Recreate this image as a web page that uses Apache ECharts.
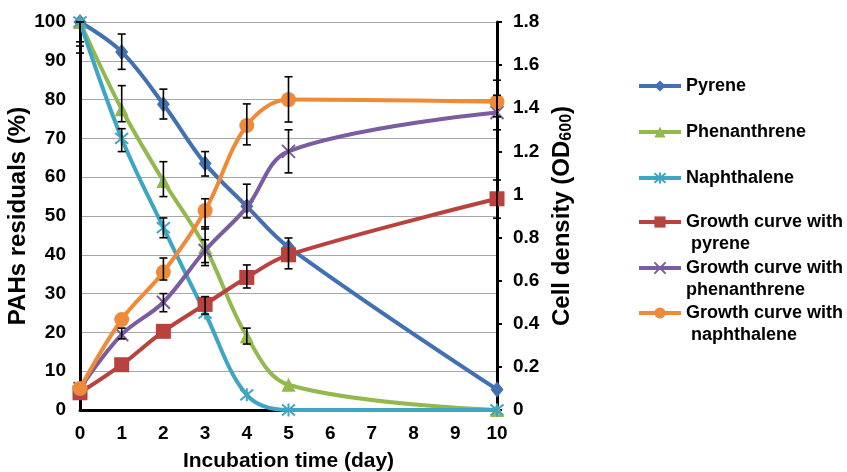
<!DOCTYPE html>
<html>
<head>
<meta charset="utf-8">
<script src="https://cdn.jsdelivr.net/npm/echarts@6/dist/echarts.min.js"></script>
<style>
  html, body { margin: 0; padding: 0; background: #fff; }
  #chart { width: 847px; height: 472px; }
</style>
</head>
<body>
<div id="chart"></div>
<script>
// days sampled
var days = [0, 1, 2, 3, 4, 5, 10];
var xTicks = [0, 1, 2, 3, 4, 5, 6, 7, 8, 9, 10];

// PAHs residuals (%)  - left axis
var pyrene = [100, 92.3, 78.8, 63.5, 52.5, 42, 5.3];
var phenanthrene = [100, 77.5, 59, 42, 19, 6.5, 0];
var naphthalene = [100, 70, 47, 25, 3.9, 0, 0];

// cell density OD600 - right axis
var growthPyrene = [0.08, 0.21, 0.365, 0.49, 0.615, 0.72, 0.98];
var growthPhen = [0.1, 0.35, 0.5, 0.74, 0.94, 1.2, 1.38];
var growthNaph = [0.1, 0.42, 0.64, 0.925, 1.32, 1.44, 1.43];

// error bars [day, low, high]
var errLeft = [
    [0, 94.9, 100], [0, 93.8, 100], [0, 92, 100],
    [1, 87.8, 96.9], [2, 75, 82.7], [3, 60.3, 66.6], [4, 49.5, 58.2],
    [1, 74.3, 83.6], [2, 55, 64], [3, 38, 47.2], [4, 17, 21.1],
    [1, 66.6, 72.5], [2, 44.4, 49.5]
];
var errRight = [
    [3, 0.445, 0.526], [4, 0.566, 0.673], [5, 0.655, 0.798], [10, 0.89, 1.067],
    [1, 0.33, 0.38], [2, 0.456, 0.54], [3, 0.67, 0.79], [5, 1.1, 1.3], [10, 1.3, 1.46],
    [2, 0.603, 0.705], [3, 0.84, 0.98], [4, 1.23, 1.42], [5, 1.336, 1.546], [10, 1.36, 1.53]
];

var names = ['Pyrene', 'Phenanthrene', 'Naphthalene',
    'Growth curve with\n pyrene', 'Growth curve with\nphenanthrene', 'Growth curve with\n naphthalene'];
var colors = ['#4170b3', '#93b84e', '#3ea6c3', '#b9413e', '#7a5ca0', '#ef8a38'];

var chart = echarts.init(document.getElementById('chart'));

function pairs(vals) {
    return days.map(function (d, i) { return [d, vals[i]]; });
}

function lineSeries(i, vals, yIdx, symbol, size, hollow) {
    return {
        name: names[i],
        type: 'line',
        yAxisIndex: yIdx,
        data: pairs(vals),
        smooth: 0.35,
        symbol: symbol,
        symbolSize: size,
        showSymbol: true,
        lineStyle: { color: colors[i], width: 4 },
        itemStyle: hollow
            ? { color: 'rgba(0,0,0,0)', borderColor: colors[i], borderWidth: 2 }
            : { color: colors[i] },
        z: 3 + i
    };
}

function errSeries(data, yIdx) {
    return {
        type: 'custom',
        yAxisIndex: yIdx,
        data: data,
        z: 20,
        silent: true,
        renderItem: function (params, api) {
            var x = api.value(0);
            var lo = api.coord([x, api.value(1)]);
            var hi = api.coord([x, api.value(2)]);
            var w = 4;
            var st = { stroke: '#000', lineWidth: 1.6 };
            return {
                type: 'group',
                children: [
                    { type: 'line', shape: { x1: lo[0], y1: lo[1], x2: hi[0], y2: hi[1] }, style: st },
                    { type: 'line', shape: { x1: lo[0] - w, y1: lo[1], x2: lo[0] + w, y2: lo[1] }, style: st },
                    { type: 'line', shape: { x1: hi[0] - w, y1: hi[1], x2: hi[0] + w, y2: hi[1] }, style: st }
                ]
            };
        }
    };
}

var font = 'Liberation Sans, Arial, sans-serif';
var legendTops = [86, 132, 178, 222, 268, 313];
var lh = 22;

var legends = names.map(function (n, i) {
    var twoLine = n.indexOf('\n') >= 0;
    return {
        data: [n],
        orient: 'vertical',
        left: 637,
        top: legendTops[i] - (twoLine ? lh * 1.5 : lh / 2),
        padding: 0,
        itemWidth: 42,
        itemHeight: 14,
        itemGap: 0,
        lineStyle: { width: 4 },
        formatter: function (name) {
            // blank first line keeps the icon level with the first text line
            return name.indexOf('\n') >= 0 ? ' \n' + name : name;
        },
        textStyle: {
            fontFamily: font, fontWeight: 'bold', fontSize: 18, color: '#000',
            lineHeight: lh
        }
    };
});

var option = {
    animation: false,
    backgroundColor: '#fff',
    textStyle: { fontFamily: font },
    grid: { left: 80, right: 350, top: 22, bottom: 62, containLabel: false, outerBoundsMode: 'none' },
    legend: legends,
    xAxis: {
        type: 'value',
        min: 0, max: 10, interval: 1,
        name: 'Incubation time (day)',
        nameLocation: 'middle',
        nameGap: 41,
        nameTextStyle: { fontFamily: font, fontWeight: 'bold', fontSize: 21, color: '#000' },
        axisLine: { lineStyle: { color: '#000', width: 3 } },
        axisTick: { show: false },
        splitLine: { show: false },
        axisLabel: {
            fontFamily: font, fontWeight: 'bold', fontSize: 19, color: '#000', margin: 14,
            formatter: function (v) { return xTicks.indexOf(v) >= 0 ? String(v) : ''; }
        }
    },
    yAxis: [{
        type: 'value',
        min: 0, max: 100, interval: 10,
        name: 'PAHs residuals (%)',
        nameLocation: 'middle',
        nameRotate: 90,
        nameGap: 34,
        nameTextStyle: { fontFamily: font, fontWeight: 'bold', fontSize: 24, color: '#000' },
        axisLine: { show: true, lineStyle: { color: '#000', width: 3 } },
        axisTick: { show: false },
        splitLine: { show: true, lineStyle: { color: '#a6a6a6', width: 1 } },
        axisLabel: { fontFamily: font, fontWeight: 'bold', fontSize: 19, color: '#000', margin: 14 }
    }, {
        type: 'value',
        position: 'right',
        min: 0, max: 1.8, interval: 0.2,
        name: 'Cell density (OD{sub|600})',
        nameLocation: 'middle',
        nameRotate: 90,
        nameGap: 53,
        nameTextStyle: {
            fontFamily: font, fontWeight: 'bold', fontSize: 24, color: '#000',
            rich: { sub: { fontFamily: font, fontWeight: 'bold', fontSize: 16, color: '#000', verticalAlign: 'bottom', padding: [9, 0, 0, 0] } }
        },
        axisLine: { show: true, lineStyle: { color: '#000', width: 3 } },
        axisTick: { show: true, length: 5, lineStyle: { color: '#000', width: 2 } },
        splitLine: { show: false },
        axisLabel: { fontFamily: font, fontWeight: 'bold', fontSize: 19, color: '#000', margin: 16 }
    }],
    series: [
        lineSeries(0, pyrene, 0, 'diamond', [13, 16]),
        lineSeries(1, phenanthrene, 0, 'triangle', 14),
        lineSeries(2, naphthalene, 0, 'path://M0,0L10,10M10,0L0,10M5,-1L5,11', 13, true),
        lineSeries(3, growthPyrene, 1, 'rect', 15),
        lineSeries(4, growthPhen, 1, 'path://M0,0L10,10M10,0L0,10', 13, true),
        lineSeries(5, growthNaph, 1, 'circle', 15),
        errSeries(errLeft, 0),
        errSeries(errRight, 1)
    ]
};

chart.setOption(option);
</script>
</body>
</html>
